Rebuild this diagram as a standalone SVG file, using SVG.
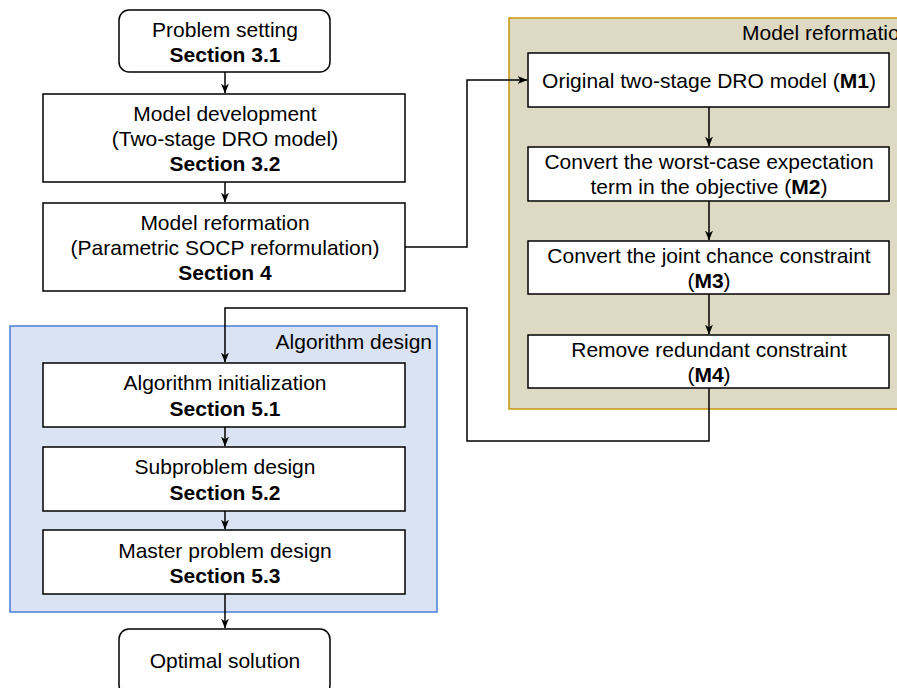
<svg xmlns="http://www.w3.org/2000/svg" width="897" height="688" viewBox="0 0 897 688">
  <defs>
    <marker id="arrow" viewBox="0 0 10 8" refX="9.5" refY="4" markerWidth="10" markerHeight="8" markerUnits="userSpaceOnUse" orient="auto">
      <path d="M0,0 L10,4 L0,8 L3,4 Z" fill="#000"/>
    </marker>
  </defs>
  <style>
    text { font-family: "Liberation Sans", Arial, Helvetica, sans-serif; font-size: 21px; fill: #000; text-anchor: middle; }
    .b { font-weight: bold; }
    .box { fill: #fff; stroke: #000; stroke-width: 1.5; }
    .edge { fill: none; stroke: #000; stroke-width: 1.5; }
    .grp-model { fill: #ddd9c3; stroke: #c8960a; stroke-width: 1.5; }
    .grp-algo { fill: #dae3f3; stroke: #4a7ed6; stroke-width: 1.5; }
    .title-start { text-anchor: start; }
    .title-end { text-anchor: end; }
  </style>

  <rect width="897" height="688" fill="#fff"/>

  <!-- Containers -->
  <g id="group-model-reformation">
    <rect class="grp-model" x="509" y="18" width="400" height="391"/>
    <text class="title-start" x="742" y="39.5">Model reformation</text>
  </g>
  <g id="group-algorithm-design">
    <rect class="grp-algo" x="10" y="326" width="427" height="286"/>
    <text class="title-end" x="432" y="349">Algorithm design</text>
  </g>

  <!-- Connectors -->
  <g id="connectors">
    <path class="edge" d="M225,72 V93" marker-end="url(#arrow)"/>
    <path class="edge" d="M225,182 V202" marker-end="url(#arrow)"/>
    <path class="edge" d="M405,247 H467 V80 H527" marker-end="url(#arrow)"/>
    <path class="edge" d="M709,107 V146" marker-end="url(#arrow)"/>
    <path class="edge" d="M709,201 V240" marker-end="url(#arrow)"/>
    <path class="edge" d="M709,294 V334" marker-end="url(#arrow)"/>
    <path class="edge" d="M709,388 V441 H467 V308 H225 V362" marker-end="url(#arrow)"/>
    <path class="edge" d="M225,427 V446" marker-end="url(#arrow)"/>
    <path class="edge" d="M225,511 V529" marker-end="url(#arrow)"/>
    <path class="edge" d="M225,594 V628" marker-end="url(#arrow)"/>
  </g>

  <!-- Main flow -->
  <g id="problem-setting">
    <rect class="box" x="119" y="10" width="211" height="62" rx="10"/>
    <text x="225" y="37">Problem setting</text>
    <text class="b" x="225" y="62">Section 3.1</text>
  </g>
  <g id="model-development">
    <rect class="box" x="43" y="94" width="362" height="88"/>
    <text x="225" y="120.5">Model development</text>
    <text x="225" y="146">(Two-stage DRO model)</text>
    <text class="b" x="225" y="171">Section 3.2</text>
  </g>
  <g id="model-reformation">
    <rect class="box" x="43" y="203" width="362" height="88"/>
    <text x="225" y="230">Model reformation</text>
    <text x="225" y="255">(Parametric SOCP reformulation)</text>
    <text class="b" x="225" y="280">Section 4</text>
  </g>

  <!-- Reformation steps -->
  <g id="m1">
    <rect class="box" x="528" y="53" width="361" height="54"/>
    <text x="709" y="88">Original two-stage DRO model (<tspan class="b">M1</tspan>)</text>
  </g>
  <g id="m2">
    <rect class="box" x="528" y="147" width="361" height="54"/>
    <text x="709" y="168.5">Convert the worst-case expectation</text>
    <text x="709" y="193.5">term in the objective (<tspan class="b">M2</tspan>)</text>
  </g>
  <g id="m3">
    <rect class="box" x="528" y="241" width="361" height="53"/>
    <text x="709" y="263">Convert the joint chance constraint</text>
    <text x="709" y="288">(<tspan class="b">M3</tspan>)</text>
  </g>
  <g id="m4">
    <rect class="box" x="528" y="335" width="361" height="53"/>
    <text x="709" y="357">Remove redundant constraint</text>
    <text x="709" y="382">(<tspan class="b">M4</tspan>)</text>
  </g>

  <!-- Algorithm steps -->
  <g id="algorithm-initialization">
    <rect class="box" x="43" y="363" width="362" height="64"/>
    <text x="225" y="390">Algorithm initialization</text>
    <text class="b" x="225" y="415.5">Section 5.1</text>
  </g>
  <g id="subproblem-design">
    <rect class="box" x="43" y="447" width="362" height="64"/>
    <text x="225" y="474">Subproblem design</text>
    <text class="b" x="225" y="499.5">Section 5.2</text>
  </g>
  <g id="master-problem-design">
    <rect class="box" x="43" y="530" width="362" height="64"/>
    <text x="225" y="557.5">Master problem design</text>
    <text class="b" x="225" y="583">Section 5.3</text>
  </g>
  <g id="optimal-solution">
    <rect class="box" x="119" y="629" width="211" height="66" rx="10"/>
    <text x="225" y="668">Optimal solution</text>
  </g>
</svg>
